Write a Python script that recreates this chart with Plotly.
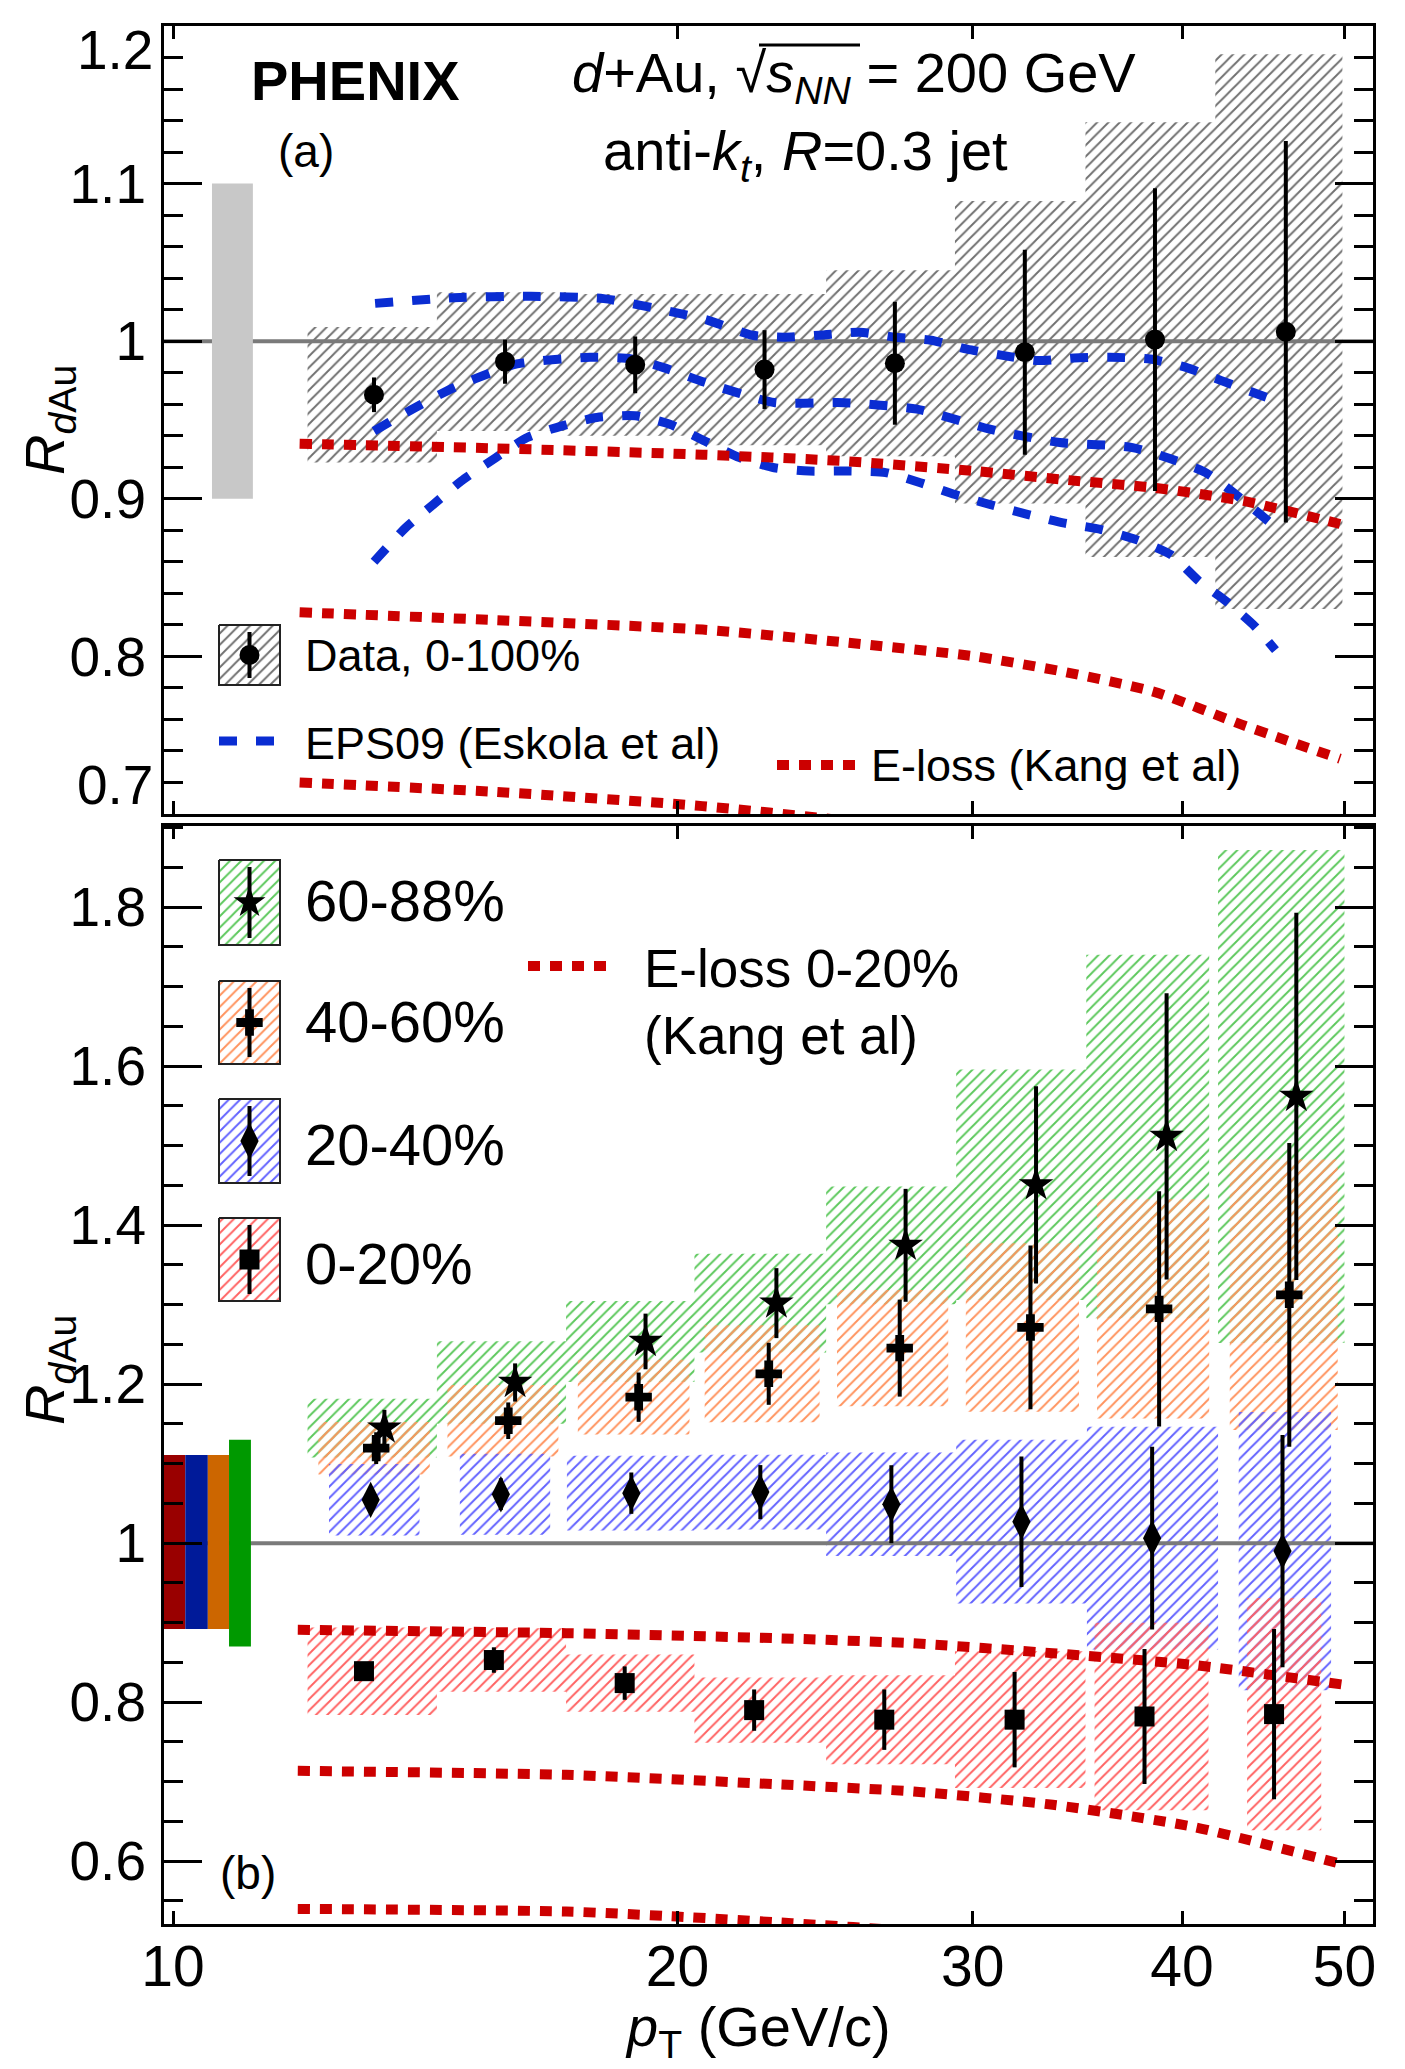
import numpy as np
import plotly.graph_objects as go

W, H = 1405, 2069
FONT = "Liberation Sans, Arial, sans-serif"

# ====================== DATA ======================
# ---- panel (a): d+Au 0-100% ----
pt_a = [13.18, 15.78, 18.87, 22.54, 26.96, 32.23, 38.54, 46.13]
r_a = [0.966, 0.987, 0.985, 0.982, 0.986, 0.993, 1.001, 1.006]
stat_a = [0.011, 0.014, 0.018, 0.025, 0.039, 0.065, 0.096, 0.121]
sys_a = [0.043, 0.044, 0.045, 0.048, 0.059, 0.096, 0.138, 0.176]
binlo_a = [12.03, 14.37, 17.16, 20.47, 24.53, 29.28, 35.03, 41.87]
binhi_a = [14.37, 17.16, 20.47, 24.53, 29.28, 35.03, 41.87, 49.86]
glob_a = [10.55, 11.16, 0.90, 1.10]  # x-lo, x-hi, y-lo, y-hi

# EPS09 band (upper / central / lower)
eps_up_pt = [13.2, 14.7, 16.35, 18.07, 19.98, 20.84, 22.17, 23.14, 24.3, 25.68, 26.98,
             28.33, 29.77, 31.26, 32.82, 34.49, 36.22, 38.28, 40.22, 42.22, 44.36, 45.3]
eps_up_r = [1.024, 1.0276, 1.0285, 1.027, 1.018, 1.0134, 1.0038, 1.0025, 1.0038, 1.0057, 1.0025,
            1.0006, 0.995, 0.991, 0.9877, 0.9894, 0.9898, 0.9887, 0.9834, 0.975, 0.9665, 0.963]
eps_mid_pt = [13.18, 13.9, 14.72, 16.04, 17.73, 18.77, 19.6, 20.76, 22.84, 25.13, 27.79,
              30.72, 33.81, 37.37, 41.32, 45.04]
eps_mid_r = [0.943, 0.957, 0.9707, 0.9856, 0.9898, 0.9888, 0.9834, 0.9739, 0.9611, 0.961, 0.9569,
             0.9442, 0.9357, 0.9325, 0.9166, 0.8858]
eps_lo_pt = [13.18, 13.76, 14.30, 14.86, 15.58, 16.27, 17.07, 17.90, 18.87, 19.79, 20.76, 21.78,
             22.84, 23.96, 25.37, 26.62, 27.92, 29.29, 30.72, 32.38, 33.97, 35.8, 37.56, 39.4,
             40.96, 42.5, 44.12, 45.48]
eps_lo_r = [0.860, 0.8815, 0.8964, 0.9113, 0.9261, 0.9389, 0.9463, 0.9516, 0.9527, 0.9473, 0.9367,
            0.9261, 0.9197, 0.9176, 0.9176, 0.9166, 0.9102, 0.9027, 0.8964, 0.890, 0.8847, 0.8805,
            0.8741, 0.8645, 0.8476, 0.835, 0.820, 0.804]

# E-loss (Kang et al), min-bias, three curves
eloss_a_pt = [11.9, 15.6, 20.7, 25.1, 30.1, 34.1, 38.5, 43.6, 49.7]
eloss_a_up = [0.935, 0.932, 0.928, 0.924, 0.9176, 0.912, 0.907, 0.8985, 0.884]
eloss_a_mid = [0.828, 0.823, 0.817, 0.809, 0.800, 0.790, 0.7775, 0.756, 0.735]
eloss_a_lo = [0.720, 0.714, 0.705, 0.696, 0.686, 0.676, 0.664, 0.646, 0.625]

# ---- panel (b): centrality classes ----
pt_020 = [13.0, 15.54, 18.6, 22.22, 26.57, 31.78, 37.99, 45.39]
r_020 = [0.839, 0.853, 0.824, 0.790, 0.778, 0.778, 0.782, 0.785]
stat_020 = [0.008, 0.016, 0.021, 0.026, 0.038, 0.060, 0.085, 0.107]
sys_020 = [0.055, 0.040, 0.036, 0.041, 0.056, 0.086, 0.118, 0.146]
binlo_020 = [12.03, 14.37, 17.16, 20.47, 24.53, 29.28, 35.47, 43.74]
binhi_020 = [14.37, 17.16, 20.47, 24.53, 29.28, 35.03, 41.48, 48.43]

pt_2040 = [13.12, 15.69, 18.77, 22.41, 26.83, 32.08, 38.39, 45.92]
r_2040 = [1.0545, 1.0616, 1.0629, 1.0642, 1.049, 1.027, 1.0063, 0.990]
stat_2040 = [0.012, 0.020, 0.026, 0.034, 0.049, 0.082, 0.115, 0.146]
sys_2040 = [0.045, 0.051, 0.047, 0.047, 0.065, 0.103, 0.140, 0.175]
binlo_2040 = [12.39, 14.83, 17.18, 20.47, 24.53, 29.33, 35.10, 43.24]
binhi_2040 = [14.03, 16.79, 20.47, 24.53, 29.33, 35.10, 42.03, 49.09]

pt_4060 = [13.22, 15.85, 18.96, 22.67, 27.14, 32.48, 38.76, 46.35]
r_4060 = [1.1195, 1.154, 1.1836, 1.213, 1.2453, 1.2713, 1.2947, 1.3124]
stat_4060 = [0.020, 0.023, 0.031, 0.039, 0.061, 0.103, 0.148, 0.191]
sys_4060 = [0.033, 0.045, 0.047, 0.061, 0.073, 0.106, 0.138, 0.170]
binlo_4060 = [12.21, 14.58, 17.44, 20.76, 24.90, 29.72, 35.59, 42.71]
binhi_4060 = [14.23, 16.98, 20.33, 24.31, 29.01, 34.72, 41.52, 49.54]

pt_6088 = [13.37, 16.0, 19.14, 22.91, 27.36, 32.73, 39.16, 46.8]
r_6088 = [1.1447, 1.2021, 1.2537, 1.3019, 1.3746, 1.4507, 1.5115, 1.5619]
stat_6088 = [0.023, 0.024, 0.035, 0.044, 0.071, 0.124, 0.180, 0.231]
sys_6088 = [0.037, 0.052, 0.051, 0.062, 0.074, 0.145, 0.2285, 0.310]
binlo_6088 = [12.03, 14.37, 17.16, 20.47, 24.53, 29.33, 35.07, 42.03]
binhi_6088 = [14.37, 17.16, 20.47, 24.53, 29.33, 35.07, 41.52, 50.0]

# global normalisation boxes, panel (b): x-lo, x-hi, y-lo, y-hi
glob_020 = [9.877, 10.17, 0.892, 1.111]
glob_2040 = [10.17, 10.49, 0.892, 1.111]
glob_4060 = [10.49, 10.80, 0.892, 1.111]
glob_6088 = [10.80, 11.13, 0.870, 1.130]

# E-loss 0-20% (Kang et al)
eloss_b_pt = [11.87, 17.16, 22.84, 27.66, 33.49, 40.54, 50.0]
eloss_b_up = [0.891, 0.8868, 0.8805, 0.874, 0.8616, 0.847, 0.8218]
eloss_b_mid = [0.7136, 0.7086, 0.6969, 0.6876, 0.6709, 0.6436, 0.5954]
eloss_b_lo_pt = [11.87, 17.16, 19.98, 23.4, 27.66, 33.49, 40.54, 50.0]
eloss_b_lo = [0.540, 0.5367, 0.5304, 0.522, 0.512, 0.497, 0.470, 0.420]

x_ticks = [10, 20, 30, 40, 50]
x_ticktext = ["10", "20", "30", "40", "50"]
ya_ticks = [0.8, 0.9, 1.0, 1.1]
ya_ticktext = ["0.8", "0.9", "1", "1.1"]
yb_ticks = [0.6, 0.8, 1.0, 1.2, 1.4, 1.6, 1.8]
yb_ticktext = ["0.6", "0.8", "1", "1.2", "1.4", "1.6", "1.8"]

# ====================== STYLE / LAYOUT CONSTANTS ======================
FR_L, FR_R = 156, 1365
TOP_T, TOP_B = 18, 806
BOT_T, BOT_B = 818, 1916
X_RANGE = [np.log10(9.877), np.log10(52.0)]
YA_RANGE = [0.70, 1.20]
YB_RANGE = [0.521, 1.902]

C_GREY_H = "#707070"
C_GREEN_H = "#5cc85c"
C_ORANGE_H = "#ff935e"
C_BLUE_H = "#6262ff"
C_RED_H = "#ff6262"
C_EPS = "#0a2dd2"
C_ELOSS = "#cc0000"
HATCH_SIZE = 8
HATCH_SOL = 0.24

fig = go.Figure()


def hatch(lo, hi, r, s, color, xa, ya, border=None):
    xs, ys = [], []
    for a, b, c, h in zip(lo, hi, r, s):
        xs += [a, b, b, a, a, None]
        ys += [c - h, c - h, c + h, c + h, c - h, None]
    return go.Scatter(
        x=xs, y=ys, mode="lines" if border else "none", fill="toself",
        fillcolor="rgba(0,0,0,0)",
        line=dict(color=border or "rgba(0,0,0,0)", width=2),
        fillpattern=dict(shape="/", fgcolor=color, bgcolor="rgba(0,0,0,0)",
                         size=HATCH_SIZE, solidity=HATCH_SOL, fgopacity=1),
        xaxis=xa, yaxis=ya, hoverinfo="skip", showlegend=False)


def solid_box(b, color, xa, ya):
    x0, x1, y0, y1 = b
    return go.Scatter(x=[x0, x1, x1, x0, x0], y=[y0, y0, y1, y1, y0], mode="none",
                      fill="toself", fillcolor=color, xaxis=xa, yaxis=ya,
                      hoverinfo="skip", showlegend=False)


def points(x, y, e, sym, size, xa, ya):
    return go.Scatter(
        x=x, y=y, mode="markers",
        marker=dict(symbol=sym, size=size, color="black", line=dict(width=0)),
        error_y=dict(type="data", array=e, visible=True, thickness=4, width=0, color="black"),
        xaxis=xa, yaxis=ya, hoverinfo="skip", showlegend=False)


def curve(x, y, color, dash, width, xa, ya):
    return go.Scatter(x=x, y=y, mode="lines",
                      line=dict(color=color, dash=dash, width=width, shape="spline", smoothing=0.6),
                      xaxis=xa, yaxis=ya, hoverinfo="skip", showlegend=False)


def hline(xa, ya):
    return go.Scatter(x=[10 ** X_RANGE[0], 10 ** X_RANGE[1]], y=[1, 1], mode="lines",
                      line=dict(color="#7a7a7a", width=4), xaxis=xa, yaxis=ya,
                      hoverinfo="skip", showlegend=False)


EPS_DASH = "18px,19px"
EL_DASH = "12px,10px"

# ---------------- panel (a) ----------------
fig.add_trace(hatch(binlo_a, binhi_a, r_a, sys_a, C_GREY_H, "x", "y"))
fig.add_trace(hline("x", "y"))
fig.add_trace(solid_box(glob_a, "#c8c8c8", "x", "y"))
fig.add_trace(curve(eps_up_pt, eps_up_r, C_EPS, EPS_DASH, 9, "x", "y"))
fig.add_trace(curve(eps_mid_pt, eps_mid_r, C_EPS, EPS_DASH, 9, "x", "y"))
fig.add_trace(curve(eps_lo_pt, eps_lo_r, C_EPS, EPS_DASH, 9, "x", "y"))
fig.add_trace(curve(eloss_a_pt, eloss_a_up, C_ELOSS, EL_DASH, 10, "x", "y"))
fig.add_trace(curve(eloss_a_pt, eloss_a_mid, C_ELOSS, EL_DASH, 10, "x", "y"))
fig.add_trace(curve(eloss_a_pt, eloss_a_lo, C_ELOSS, EL_DASH, 10, "x", "y"))
fig.add_trace(points(pt_a, r_a, stat_a, "circle", 20, "x", "y"))

# ---------------- panel (b) ----------------
fig.add_trace(hatch(binlo_6088, binhi_6088, r_6088, sys_6088, C_GREEN_H, "x2", "y2"))
fig.add_trace(hatch(binlo_4060, binhi_4060, r_4060, sys_4060, C_ORANGE_H, "x2", "y2"))
fig.add_trace(hatch(binlo_2040, binhi_2040, r_2040, sys_2040, C_BLUE_H, "x2", "y2"))
fig.add_trace(hatch(binlo_020, binhi_020, r_020, sys_020, C_RED_H, "x2", "y2"))
fig.add_trace(hline("x2", "y2"))
fig.add_trace(curve(eloss_b_pt, eloss_b_up, C_ELOSS, EL_DASH, 10, "x2", "y2"))
fig.add_trace(curve(eloss_b_pt, eloss_b_mid, C_ELOSS, EL_DASH, 10, "x2", "y2"))
fig.add_trace(curve(eloss_b_lo_pt, eloss_b_lo, C_ELOSS, EL_DASH, 10, "x2", "y2"))
fig.add_trace(solid_box(glob_020, "#990000", "x2", "y2"))
fig.add_trace(solid_box(glob_2040, "#001a99", "x2", "y2"))
fig.add_trace(solid_box(glob_4060, "#cc6600", "x2", "y2"))
fig.add_trace(solid_box(glob_6088, "#009900", "x2", "y2"))
fig.add_trace(points(pt_020, r_020, stat_020, "square", 20, "x2", "y2"))
fig.add_trace(points(pt_2040, r_2040, stat_2040, "diamond-tall", 26, "x2", "y2"))
fig.add_trace(points(pt_4060, r_4060, stat_4060, "cross", 22, "x2", "y2"))
fig.add_trace(points(pt_6088, r_6088, stat_6088, "star", 26, "x2", "y2"))

# ---------------- legend glyphs (pixel overlay axes x3/y3) ----------------
LEG_X0, LEG_X1 = 211, 272
LEG_XC = (LEG_X0 + LEG_X1) / 2
leg_boxes = [  # (y-top, y-bottom, hatch colour, symbol, size)
    (617, 677, C_GREY_H, "circle", 20),
    (852, 937, C_GREEN_H, "star", 24),
    (973, 1056, C_ORANGE_H, "cross", 22),
    (1091, 1175, C_BLUE_H, "diamond-tall", 26),
    (1210, 1293, C_RED_H, "square", 20),
]
for yt, yb, col, sym, sz in leg_boxes:
    yc = (yt + yb) / 2
    fig.add_trace(hatch([LEG_X0], [LEG_X1], [yc], [(yb - yt) / 2], col, "x3", "y3",
                        border="#222222"))
    fig.add_trace(points([LEG_XC], [yc], [(yb - yt) / 2 - 7], sym, sz, "x3", "y3"))

fig.add_trace(go.Scatter(x=[211, 268], y=[733, 733], mode="lines",
                         line=dict(color=C_EPS, width=9, dash=EPS_DASH),
                         xaxis="x3", yaxis="y3", hoverinfo="skip", showlegend=False))
fig.add_trace(go.Scatter(x=[769, 847], y=[757, 757], mode="lines",
                         line=dict(color=C_ELOSS, width=10, dash=EL_DASH),
                         xaxis="x3", yaxis="y3", hoverinfo="skip", showlegend=False))
fig.add_trace(go.Scatter(x=[520, 598], y=[958, 958], mode="lines",
                         line=dict(color=C_ELOSS, width=10, dash=EL_DASH),
                         xaxis="x3", yaxis="y3", hoverinfo="skip", showlegend=False))


# ---------------- axes ----------------
def xaxis_cfg(domain, anchor, labels):
    return dict(type="log", range=X_RANGE, domain=domain, anchor=anchor,
                tickvals=x_ticks, ticktext=x_ticktext, showticklabels=labels,
                ticks="inside", ticklen=13, tickwidth=3, tickcolor="black",
                showline=True, linewidth=3, linecolor="black", mirror="ticks",
                showgrid=False, zeroline=False, automargin=False,
                ticklabelstandoff=-9,
                tickfont=dict(family=FONT, size=57, color="black"))


def yaxis_cfg(domain, anchor, rng, tv, tt, mdt):
    return dict(range=rng, domain=domain, anchor=anchor, tickvals=tv, ticktext=tt,
                ticks="inside", ticklen=38, tickwidth=3, tickcolor="black",
                minor=dict(dtick=mdt, tick0=0, ticks="inside", ticklen=19, tickwidth=3,
                           tickcolor="black", showgrid=False),
                showline=True, linewidth=3, linecolor="black", mirror="ticks",
                showgrid=False, zeroline=False, automargin=False,
                ticklabelstandoff=4,
                tickfont=dict(family=FONT, size=55, color="black"))


xd = [FR_L / W, FR_R / W]
fig.update_layout(
    width=W, height=H, margin=dict(l=0, r=0, t=0, b=0),
    paper_bgcolor="white", plot_bgcolor="rgba(0,0,0,0)",
    showlegend=False,
    xaxis=xaxis_cfg(xd, "y", False),
    yaxis=yaxis_cfg([1 - TOP_B / H, 1 - TOP_T / H], "x", YA_RANGE, ya_ticks, ya_ticktext, 0.02),
    xaxis2=xaxis_cfg(xd, "y2", True),
    yaxis2=yaxis_cfg([1 - BOT_B / H, 1 - BOT_T / H], "x2", YB_RANGE, yb_ticks, yb_ticktext, 0.05),
    xaxis3=dict(domain=[0, 1], range=[0, W], anchor="y3", visible=False, fixedrange=True),
    yaxis3=dict(domain=[0, 1], range=[H, 0], anchor="x3", visible=False, fixedrange=True),
)


# ---------------- texts (pixel coordinates) ----------------
def txt(x, y, s, size, xanchor="left", angle=0):
    fig.add_annotation(x=x, y=y, xref="x3", yref="y3", text=s, showarrow=False,
                       xanchor=xanchor, yanchor="middle", textangle=angle,
                       font=dict(family=FONT, size=size, color="black"))


txt(241, 72, "<b>PHENIX</b>", 56)
txt(268, 143, "(a)", 46)
txt(846, 68, "<i>d</i>+Au, √<i>s</i><sub><i>NN</i></sub> = 200 GeV", 56, "center")
# overline of the square root
fig.add_shape(type="line", xref="x3", yref="y3", x0=751, x1=852, y0=37, y1=37,
              line=dict(color="black", width=3))
txt(797, 146, "anti-<i>k</i><sub><i>t</i></sub>, <i>R</i>=0.3 jet", 56, "center")
txt(295, 647, "Data, 0-100%", 45)
txt(295, 735, "EPS09 (Eskola et al)", 45)
txt(861, 757, "E-loss (Kang et al)", 45)
txt(147, 42, "1.2", 55, "right")
txt(147, 777, "0.7", 55, "right")

txt(295, 892, "60-88%", 58)
txt(295, 1013, "40-60%", 58)
txt(295, 1136, "20-40%", 58)
txt(295, 1255, "0-20%", 58)
txt(634, 960, "E-loss 0-20%", 53)
txt(634, 1027, "(Kang et al)", 53)
txt(210, 1865, "(b)", 46)

txt(40, 412, "<i>R</i><sub><i>d</i>Au</sub>", 56, "center", -90)
txt(40, 1362, "<i>R</i><sub><i>d</i>Au</sub>", 56, "center", -90)
txt(750, 2022, "<i>p</i><sub>T</sub> (GeV/c)", 56, "center")

fig.write_html("out.html")
